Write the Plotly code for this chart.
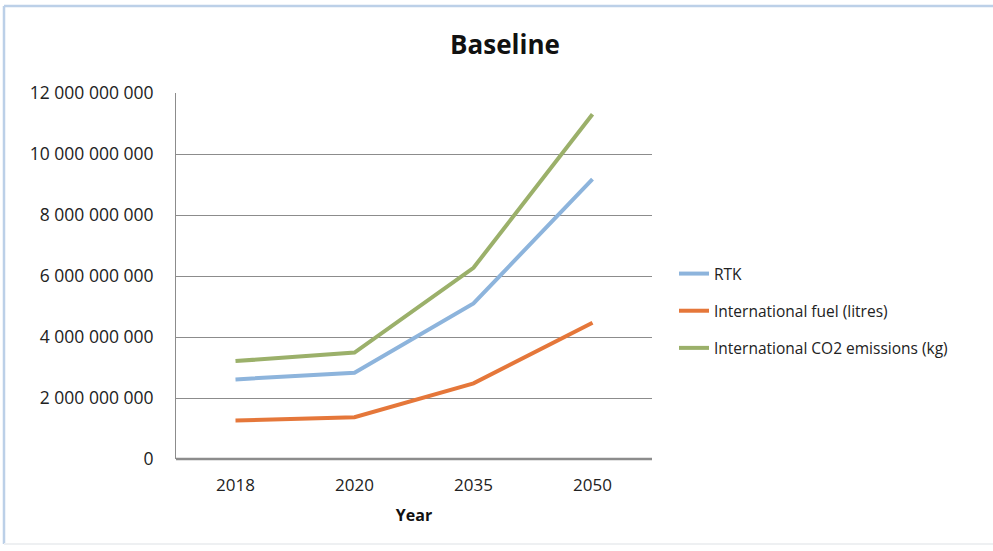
import plotly.graph_objects as go

years = ["2018", "2020", "2035", "2050"]
rtk = [2.61e9, 2.83e9, 5.10e9, 9.18e9]
fuel = [1.26e9, 1.37e9, 2.48e9, 4.47e9]
co2 = [3.21e9, 3.49e9, 6.27e9, 11.30e9]
series_names = ["RTK", "International fuel (litres)", "International CO2 emissions (kg)"]
series_colors = ["#8DB4DC", "#E5773A", "#9BB06A"]

FONT = "Open Sans"
W, H = 993, 551
L, R, T, B = 176, 652, 93, 459

fig = go.Figure()
for i, (name, vals, col) in enumerate(zip(series_names, [rtk, fuel, co2], series_colors)):
    fig.add_trace(go.Scatter(x=years, y=vals, mode="lines", name=name,
                             legendgroup="g%d" % i,
                             line=dict(color=col, width=4)))

def px_x(p):
    return (p - L) / (R - L)

def px_y(p):
    return (B - p) / (B - T)

fig.update_layout(
    width=W, height=H,
    margin=dict(l=L, r=W - R, t=T, b=H - B),
    paper_bgcolor="white", plot_bgcolor="white",
    separators=". ",
    showlegend=True,
    title=dict(text="<b>Baseline</b>", x=505 / W, xref="container", xanchor="center",
               y=1 - 45 / H, yref="container", yanchor="middle",
               font=dict(family=FONT, size=26, color="#111111")),
    legend=dict(x=px_x(674), xanchor="left", y=px_y(311), yanchor="middle",
                font=dict(family=FONT, size=15.5, color="#222222"),
                tracegroupgap=14, bgcolor="rgba(0,0,0,0)"),
    xaxis=dict(type="category", range=[-0.5, 3.5], showgrid=False, zeroline=False,
               showline=False, ticks="", ticklabelstandoff=14,
               tickfont=dict(family=FONT, size=17, color="#222222"),
               title=dict(text="<b>Year</b>", standoff=14,
                          font=dict(family=FONT, size=16, color="#111111"))),
    yaxis=dict(range=[0, 12e9], dtick=2e9, tickformat=",d", showgrid=True,
               gridcolor="#8C8C8C", gridwidth=1, zeroline=False,
               showline=True, linecolor="#8C8C8C", linewidth=1, mirror=False,
               ticks="", ticklabelstandoff=18,
               tickfont=dict(family=FONT, size=17.5, color="#222222")),
    shapes=[
        dict(type="line", xref="paper", yref="paper", x0=0, x1=1, y0=0, y1=0,
             line=dict(color="#8C8C8C", width=2.5), layer="above"),
        dict(type="line", xref="paper", yref="paper",
             x0=px_x(4), x1=px_x(993), y0=px_y(6), y1=px_y(6),
             line=dict(color="#BCD0E8", width=2.5), layer="below"),
        dict(type="line", xref="paper", yref="paper",
             x0=px_x(4), x1=px_x(4), y0=px_y(6), y1=px_y(544),
             line=dict(color="#BCD0E8", width=2.5), layer="below"),
        dict(type="line", xref="paper", yref="paper",
             x0=px_x(4), x1=px_x(993), y0=px_y(544), y1=px_y(544),
             line=dict(color="#EEF0F2", width=2), layer="below"),
    ],
)

fig.write_html("out.html")
